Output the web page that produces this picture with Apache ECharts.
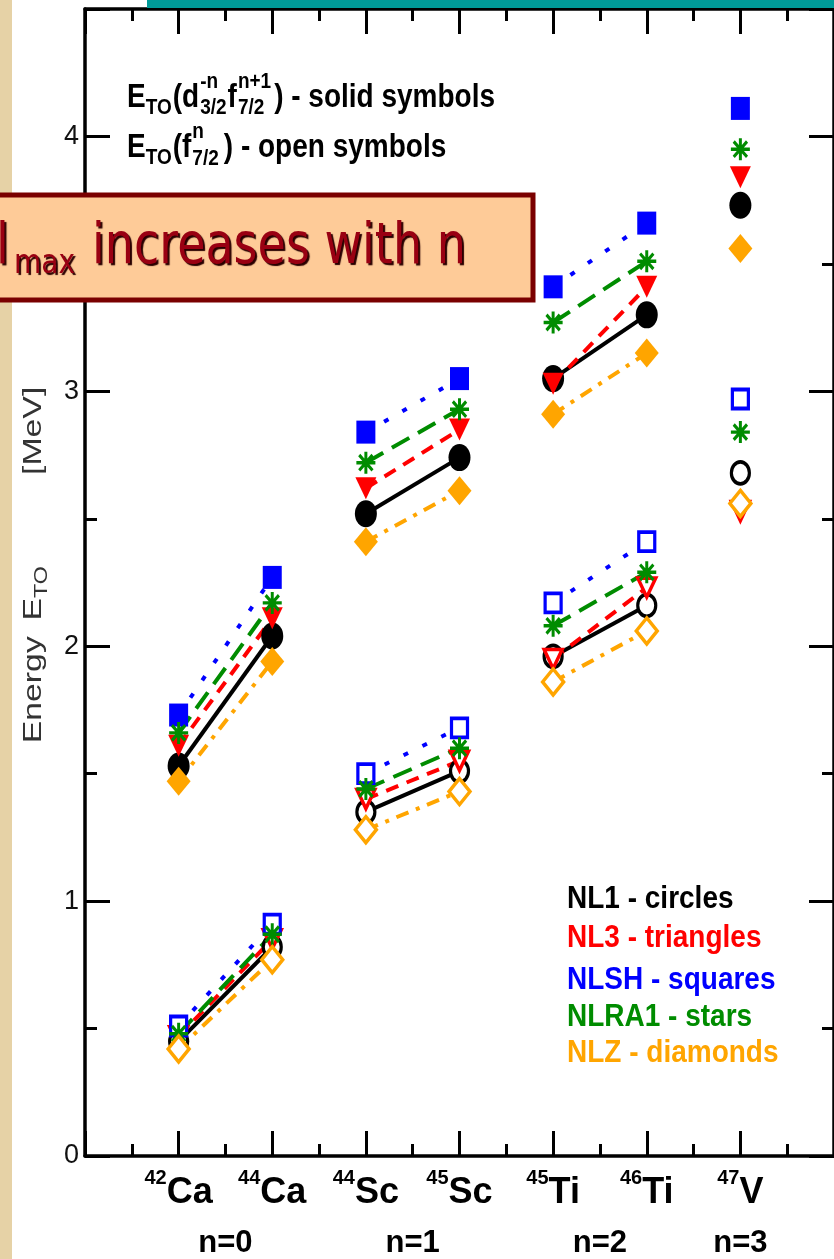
<!DOCTYPE html>
<html><head><meta charset="utf-8">
<script src="https://cdn.jsdelivr.net/npm/echarts@6/dist/echarts.min.js"></script>
<style>html,body{margin:0;padding:0;background:#fff}#c{width:834px;height:1259px}</style>
</head><body><div id="c"></div>
<script>
// ---------- data ----------
const nuclei        = ['Ca', 'Ca', 'Sc', 'Sc', 'Ti', 'Ti', 'V'];
const massNumbers   = ['42', '44', '44', '45', '45', '46', '47'];
const xPositions    = [1, 2, 3, 4, 5, 6, 7];
const groupLabels   = ['n=0', 'n=1', 'n=2', 'n=3'];
const groupPositions= [1.5, 3.5, 5.5, 7];
const yTickValues   = [0, 1, 2, 3, 4];
const linkedPairs   = [[0, 1], [2, 3], [4, 5]];

// E_TO(d3/2^-n f7/2^n+1) : solid symbols  [MeV]
const nl1Solid   = [1.53, 2.04, 2.52, 2.74, 3.05, 3.30, 3.73];
const nl3Solid   = [1.61, 2.11, 2.62, 2.85, 3.03, 3.41, 3.84];
const nlshSolid  = [1.73, 2.27, 2.84, 3.05, 3.41, 3.66, 4.11];
const nlra1Solid = [1.66, 2.17, 2.72, 2.93, 3.27, 3.51, 3.95];
const nlzSolid   = [1.47, 1.94, 2.41, 2.61, 2.91, 3.15, 3.56];
// E_TO(f7/2^n) : open symbols  [MeV]
const nl1Open    = [0.45, 0.82, 1.35, 1.51, 1.96, 2.16, 2.68];
const nl3Open    = [0.47, 0.85, 1.40, 1.55, 1.95, 2.23, 2.53];
const nlshOpen   = [0.51, 0.91, 1.50, 1.68, 2.17, 2.41, 2.97];
const nlra1Open  = [0.48, 0.87, 1.44, 1.60, 2.08, 2.29, 2.84];
const nlzOpen    = [0.42, 0.77, 1.28, 1.43, 1.86, 2.06, 2.56];

const legendLines = ['NL1 - circles', 'NL3 - triangles', 'NLSH - squares', 'NLRA1 - stars', 'NLZ - diamonds'];

// ---------- styling ----------
const FONT = '"Liberation Sans", Arial, Helvetica, sans-serif';
const TRI = 'path://M0,0L20,0L10,20Z';
const STAR = 'path://M10,0L10,20M0,10L20,10M3,3L17,17M17,3L3,17';
const models = [
  {color:'#000000', symbol:'circle',  solidSize:[22,27], openSize:[18,22], solid:nl1Solid,   open:nl1Open,   dash:'solid',       z:3},
  {color:'#ff0000', symbol:TRI,       solidSize:[21,22], openSize:[18,19], solid:nl3Solid,   open:nl3Open,   dash:[13,9],        z:4},
  {color:'#0000ff', symbol:'rect',    solidSize:[19,23], openSize:[16,19], solid:nlshSolid,  open:nlshOpen,  dash:[5,16],        z:5},
  {color:'#008c00', symbol:STAR,      solidSize:[19,22], openSize:[19,22], solid:nlra1Solid, open:nlra1Open, dash:[20,10],       z:6},
  {color:'#ffa500', symbol:'diamond', solidSize:[24,29], openSize:[21,26], solid:nlzSolid,   open:nlzOpen,   dash:[13,8,4,8],    z:7}
];

const series = [];
models.forEach(m => {
  ['solid', 'open'].forEach(kind => {
    const vals = m[kind];
    linkedPairs.forEach(([a, b]) => {
      series.push({
        type:'line', xAxisIndex:0, yAxisIndex:0, silent:true, symbol:'none', z:2,
        data:[[xPositions[a], vals[a]], [xPositions[b], vals[b]]],
        lineStyle:{color:m.color, width:4, type:m.dash, cap:'butt'}
      });
    });
    const isStar = m.symbol === STAR;
    series.push({
      type:'scatter', xAxisIndex:0, yAxisIndex:0, silent:true, z:m.z,
      symbol:m.symbol, symbolSize: kind === 'solid' ? m.solidSize : m.openSize,
      data: xPositions.map((x, i) => [x, vals[i]]),
      itemStyle: isStar ? {color:m.color, borderColor:m.color, borderWidth:3.2, opacity:1}
               : kind === 'solid' ? {color:m.color, borderWidth:0, opacity:1}
               : {color:'#ffffff', borderColor:m.color, borderWidth:3.5, opacity:1}
    });
  });
});

// ---------- text helpers ----------
const mctx = document.createElement('canvas').getContext('2d');
function tw(t, size, weight, fam) { mctx.font = `${weight} ${size}px ${fam || FONT}`; return mctx.measureText(t).width; }
function flow(segs, opt) {
  const out = []; let x = 0;
  segs.forEach(seg => {
    const parts = seg.stack || [seg];
    let maxW = 0;
    parts.forEach(p => {
      const w = tw(p.t, p.s, opt.weight, opt.fam);
      maxW = Math.max(maxW, w);
      out.push({type:'text', x:x, y:p.dy || 0, scaleY:opt.scaleY || 1, scaleX:opt.scaleX || 1, silent:true,
        style:{text:p.t, font:`${opt.weight} ${p.s}px ${opt.fam || FONT}`, fill:opt.fill,
               align:'left', textAlign:'left', verticalAlign:'middle', textVerticalAlign:'middle'}});
    });
    x += maxW + (seg.gap || 0);
  });
  return {children:out, width:x};
}

const f1 = flow([
  {t:'E', s:28}, {t:'TO', s:19, dy:10, gap:1}, {t:'(d', s:28, gap:1},
  {stack:[{t:'-n', s:19, dy:-16}, {t:'3/2', s:19, dy:10}], gap:1},
  {t:'f', s:28, gap:1},
  {stack:[{t:'n+1', s:19, dy:-16}, {t:'7/2', s:19, dy:10}], gap:3},
  {t:') - solid symbols', s:28}
], {weight:'bold', fill:'#000', scaleY:1.2});
const f2 = flow([
  {t:'E', s:28}, {t:'TO', s:19, dy:10, gap:1}, {t:'(f', s:28, gap:1},
  {stack:[{t:'n', s:19, dy:-16}, {t:'7/2', s:19, dy:11}], gap:5},
  {t:') - open symbols', s:28}
], {weight:'bold', fill:'#000', scaleY:1.2});

// y-axis title, laid out along its reading direction (drawn rotated)
const yl = flow([
  {t:'Energy', s:26, gap:12}, {t:'E', s:26}, {t:'TO', s:18, dy:8, gap:70}, {t:'[MeV]', s:26}
], {weight:'normal', fill:'#333'});
yl.children.forEach(c => { c.x -= yl.width / 2; });

const legendColors = models.map(m => m.color);
const legendY = [899, 938, 980, 1017, 1053];
const legendEls = legendLines.map((t, i) => ({
  type:'text', x:567, y:legendY[i], scaleY:1.12, silent:true, z:20,
  style:{text:t, font:`bold 28px ${FONT}`, fill:legendColors[i], align:'left', textAlign:'left', verticalAlign:'middle', textVerticalAlign:'middle'}
}));

const ANN = '"DejaVu Sans", Verdana, sans-serif';
const annShadow = {textShadowColor:'#2a0000', textShadowOffsetX:2, textShadowOffsetY:2, textShadowBlur:1};

// ---------- chart ----------
const chart = echarts.init(document.getElementById('c'), null, {renderer:'canvas'});
const axisLine = {show:true, onZero:false, lineStyle:{color:'#000', width:3.5}};
const majorTick = {show:true, inside:true, length:25, lineStyle:{color:'#000', width:3}};
const minorTick = {show:true, splitNumber:2, length:12, lineStyle:{color:'#000', width:3}};

chart.setOption({
  animation:false,
  backgroundColor:'#ffffff',
  grid:{left:85, right:-5, top:9, bottom:100, containLabel:false},
  xAxis:[
    {type:'value', position:'bottom', min:0, max:8, interval:1, axisLine:axisLine, axisTick:majorTick, minorTick:minorTick,
     splitLine:{show:false}, minorSplitLine:{show:false},
     axisLabel:{show:true, customValues:xPositions, margin:12, color:'#000',
       formatter:v => { const i = xPositions.indexOf(v); return `{s|${massNumbers[i]}}{e|${nuclei[i]}}`; },
       rich:{s:{fontSize:20, fontWeight:'bold', fontFamily:FONT, color:'#000', verticalAlign:'top', lineHeight:20},
             e:{fontSize:36, fontWeight:'bold', fontFamily:FONT, color:'#000', lineHeight:50}}}},
    {type:'value', position:'bottom', min:0, max:8, axisLine:{show:false}, axisTick:{show:false}, splitLine:{show:false},
     axisLabel:{show:true, customValues:groupPositions, margin:72, fontSize:31, fontWeight:'bold', fontFamily:FONT, color:'#000',
       formatter:v => groupLabels[groupPositions.indexOf(v)]}},
    {type:'value', position:'top', min:0, max:8, interval:1, axisLine:axisLine, axisTick:majorTick, minorTick:minorTick,
     splitLine:{show:false}, axisLabel:{show:false}}
  ],
  yAxis:[
    {type:'value', position:'left', min:0, max:4.5, interval:1, axisLine:axisLine, axisTick:majorTick, minorTick:minorTick,
     splitLine:{show:false}, minorSplitLine:{show:false},
     axisLabel:{show:true, customValues:yTickValues, fontSize:27, fontFamily:FONT, color:'#111', margin:6}},
    {type:'value', position:'right', min:0, max:4.5, interval:1, axisLine:axisLine, axisTick:majorTick, minorTick:minorTick,
     splitLine:{show:false}, axisLabel:{show:false}}
  ],
  series:series,
  graphic:[
    {type:'rect', z:-10, silent:true, shape:{x:0, y:0, width:12, height:1259}, style:{fill:'#e6d2a6'}},
    {type:'rect', z:30, silent:true, shape:{x:147, y:0, width:687, height:8}, style:{fill:'#009a98'}},
    {type:'group', x:127, y:98, z:20, silent:true, children:f1.children},
    {type:'group', x:127, y:148, z:20, silent:true, children:f2.children},
    {type:'group', x:34, y:565, rotation:Math.PI/2, scaleX:1.3, z:20, silent:true, children:yl.children},
    ...legendEls,
    {type:'rect', z:40, silent:true, shape:{x:-6, y:195, width:539, height:105}, style:{fill:'#fecb98', stroke:'#7a0000', lineWidth:5}},
    {type:'text', z:41, silent:true, x:-4, y:248, scaleY:1.25, style:Object.assign({text:'l', font:`46px ${ANN}`, fill:'#990012', align:'left', textAlign:'left', verticalAlign:'middle', textVerticalAlign:'middle'}, annShadow)},
    {type:'text', z:41, silent:true, x:14, y:264, scaleY:1.2, style:Object.assign({text:'max', font:`28px ${ANN}`, fill:'#990012', align:'left', textAlign:'left', verticalAlign:'middle', textVerticalAlign:'middle'}, annShadow)},
    {type:'text', z:41, silent:true, x:92, y:248, scaleY:1.25, style:Object.assign({text:'increases with n', font:`46px ${ANN}`, fill:'#990012', align:'left', textAlign:'left', verticalAlign:'middle', textVerticalAlign:'middle'}, annShadow)}
  ]
});
</script></body></html>
